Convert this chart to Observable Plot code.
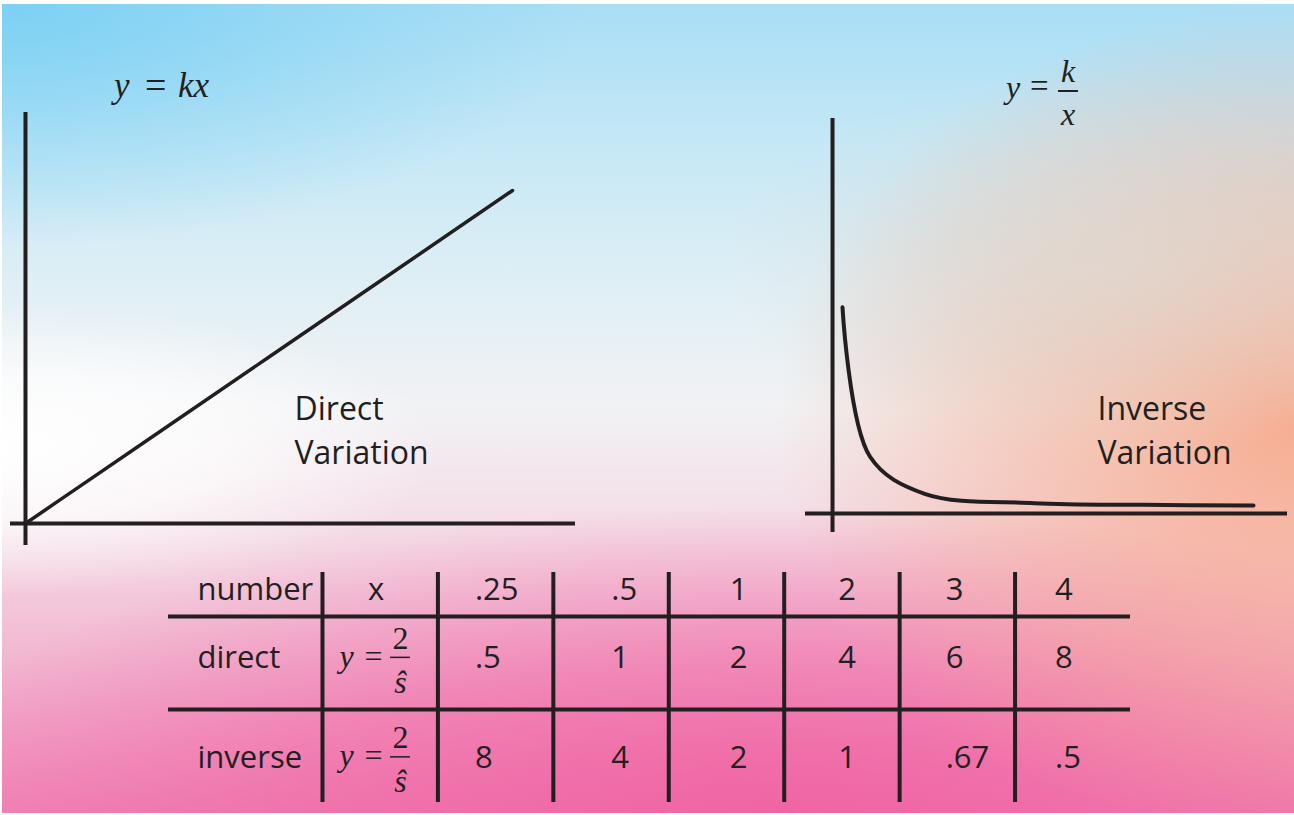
<!DOCTYPE html>
<html>
<head>
<meta charset="utf-8">
<script src="https://cdn.jsdelivr.net/npm/d3@7"></script>
<script src="https://cdn.jsdelivr.net/npm/@observablehq/plot@0.6"></script>
<style>
  html, body { margin: 0; padding: 0; background: #ffffff; }
  #slide { position: relative; width: 1294px; height: 815px; overflow: hidden; color: #231f20; }
  #bg {
    position: absolute; left: 2px; top: 4px; right: 0; bottom: 2px;
    background:
      radial-gradient(ellipse 34% 18% at 0% 55%, rgba(255,255,255,1) 0%, rgba(255,255,255,0.7) 50%, rgba(255,255,255,0) 100%),
      radial-gradient(ellipse 30% 24% at 86% 32%, rgba(222,218,210,0.7) 0%, rgba(222,218,210,0) 100%),
      radial-gradient(ellipse 40% 52% at 100% 52%, rgba(247,168,138,0.92) 0%, rgba(247,168,138,0.45) 55%, rgba(247,168,138,0) 100%),
      radial-gradient(ellipse 70% 40% at 60% 102%, rgba(240,98,162,0.95) 0%, rgba(240,98,162,0.5) 55%, rgba(240,98,162,0) 100%),
      radial-gradient(ellipse 45% 30% at 0% 0%, rgba(122,208,244,0.95) 0%, rgba(122,208,244,0.4) 55%, rgba(122,208,244,0) 100%),
      linear-gradient(to bottom, #a9def5 0%, #c6e8f6 18%, #e0eff5 35%, #f1f2f4 50%, #f4dfe8 63%, #f2b9d2 80%, #ef85b6 100%);
  }
  .panel { position: absolute; }
  .math { position: absolute; font-family: "Liberation Serif", "Times New Roman", serif; font-style: italic; line-height: 1; white-space: pre; }
</style>
</head>
<body>
<div id="slide">
  <div id="bg"></div>
  <div id="direct" class="panel" style="left:0;top:40px"></div>
  <div id="inverse" class="panel" style="left:800px;top:40px"></div>
  <div id="table" class="panel" style="left:0;top:520px"></div>

  <!-- y = kx -->
  <span class="math" style="left:114px;top:68px;font-size:35px">y</span>
  <span class="math" style="left:145px;top:66px;font-size:38px;font-style:normal">=</span>
  <span class="math" style="left:178px;top:68px;font-size:35px">kx</span>

  <!-- y = k / x -->
  <span class="math" style="left:1006px;top:71px;font-size:32px">y</span>
  <span class="math" style="left:1030px;top:70px;font-size:33px;font-style:normal">=</span>
  <span class="math" style="left:1055px;top:55px;width:26px;text-align:center;font-size:32px">k</span>
  <div style="position:absolute;left:1058px;top:90px;width:20px;height:1.5px;background:#231f20"></div>
  <span class="math" style="left:1055px;top:98px;width:26px;text-align:center;font-size:32px">x</span>
</div>

<script>
// Table values
const xValues = [0.25, 0.5, 1, 2, 3, 4];
const directValues = [0.5, 1, 2, 4, 6, 8];
const inverseValues = [8, 4, 2, 1, 0.67, 0.5];
const rowLabels = ["number", "direct", "inverse"];
const headerLabel = "x";

const ink = "#231f20";
const sans = "'Open Sans', 'Noto Sans', sans-serif";
const serif = "'Liberation Serif', 'Times New Roman', serif";
const fmt = v => String(v).replace(/^0\./, ".");
const transparent = {background: "none", overflow: "visible"};

// ---- Direct variation: y = kx, through the origin ----
const directPoints = [{x: 0, y: 0}, ...xValues.map((x, i) => ({x, y: directValues[i]}))];
const labelStyle = {frameAnchor: "top-left", textAnchor: "start", lineAnchor: "middle", fontSize: 32, fontFamily: sans, fill: ink};

const directChart = Plot.plot({
  width: 600, height: 520,
  marginLeft: 10, marginRight: 25, marginTop: 72, marginBottom: 15,
  x: {domain: [-0.123, 4.517], axis: null},
  y: {domain: [-0.529, 9.874], axis: null},
  style: transparent,
  marks: [
    Plot.ruleX([0], {stroke: ink, strokeWidth: 4}),
    Plot.ruleY([0], {stroke: ink, strokeWidth: 4}),
    Plot.line(directPoints, {x: "x", y: "y", stroke: ink, strokeWidth: 3.5}),
    Plot.text(["Direct"], {...labelStyle, dx: 284, dy: 297}),
    Plot.text(["Variation"], {...labelStyle, dx: 284, dy: 341})
  ]
});
document.getElementById("direct").append(directChart);

// ---- Inverse variation: y = k / x ----
const inversePoints = xValues.map((x, i) => ({x, y: inverseValues[i]}));
const inverseAxes = {x: 0.159, y: -1.525};

const inverseChart = Plot.plot({
  width: 494, height: 520,
  marginLeft: 5, marginRight: 7, marginTop: 78, marginBottom: 28,
  x: {domain: [-0.0876, 4.31], axis: null},
  y: {type: "pow", exponent: 2, domain: [-2.906, 11.17], axis: null},
  style: transparent,
  marks: [
    Plot.ruleX([inverseAxes.x], {stroke: ink, strokeWidth: 4}),
    Plot.ruleY([inverseAxes.y], {stroke: ink, strokeWidth: 4}),
    Plot.line(inversePoints, {x: "x", y: "y", curve: "catmull-rom", stroke: ink, strokeWidth: 4}),
    Plot.text(["Inverse"], {...labelStyle, dx: 292, dy: 291}),
    Plot.text(["Variation"], {...labelStyle, dx: 292, dy: 335})
  ]
});
document.getElementById("inverse").append(inverseChart);

// ---- Value table ----
// columns: label column spans [-1.334, 0]; each value column is one unit wide
const rowTextY = [0.72, 1.45, 2.52];
const columnPad = [37, 58, 61, 54, 46, 40];
const cells = [];
xValues.forEach((v, j) => cells.push({col: j, row: 0, text: fmt(v)}));
directValues.forEach((v, j) => cells.push({col: j, row: 1, text: fmt(v)}));
inverseValues.forEach((v, j) => cells.push({col: j, row: 2, text: fmt(v)}));
const formulaRows = [1, 2];
const cellText = {fontSize: 31, fontFamily: sans, fill: ink};
const mathText = {fontSize: 32, fontFamily: serif, fill: ink};

const tableChart = Plot.plot({
  width: 1294, height: 295,
  marginLeft: 168, marginRight: 164, marginTop: 3, marginBottom: 13,
  x: {domain: [-1.334, 7], axis: null},
  y: {domain: [0, 3], reverse: true, axis: null},
  style: transparent,
  marks: [
    Plot.ruleY([1, 2], {stroke: ink, strokeWidth: 4}),
    Plot.ruleX(d3.range(0, 7), {y1: 0.527, y2: 3, stroke: ink, strokeWidth: 4}),
    Plot.text(rowLabels, {x: -1.334, y: (d, i) => rowTextY[i], text: d => d, textAnchor: "start", dx: 29, ...cellText}),
    Plot.text([headerLabel], {x: 0.5, y: rowTextY[0], dx: -4, ...cellText}),
    // values sit left-aligned inside their columns
    Plot.text(cells, {x: d => d.col + 1 + columnPad[d.col] / 115.43, y: d => rowTextY[d.row], text: "text", textAnchor: "start", ...cellText}),
    // y = 2 / ŝ in the formula column
    Plot.text(formulaRows, {x: 0, y: r => rowTextY[r], text: () => "y", textAnchor: "start", dx: 17, dy: -2, fontStyle: "italic", ...mathText}),
    Plot.text(formulaRows, {x: 0, y: r => rowTextY[r], text: () => "=", textAnchor: "start", dx: 42, dy: -2, ...mathText}),
    Plot.text(formulaRows, {x: 0.676, y: r => rowTextY[r], text: () => "2", dy: -20, ...mathText}),
    Plot.ruleY(formulaRows, {x1: 0.589, x2: 0.762, y: r => rowTextY[r], dy: -1, stroke: ink, strokeWidth: 1.5}),
    Plot.text(formulaRows, {x: 0.676, y: r => rowTextY[r], text: () => "ŝ", dy: 24, fontStyle: "italic", ...mathText})
  ]
});
document.getElementById("table").append(tableChart);
</script>
</body>
</html>
